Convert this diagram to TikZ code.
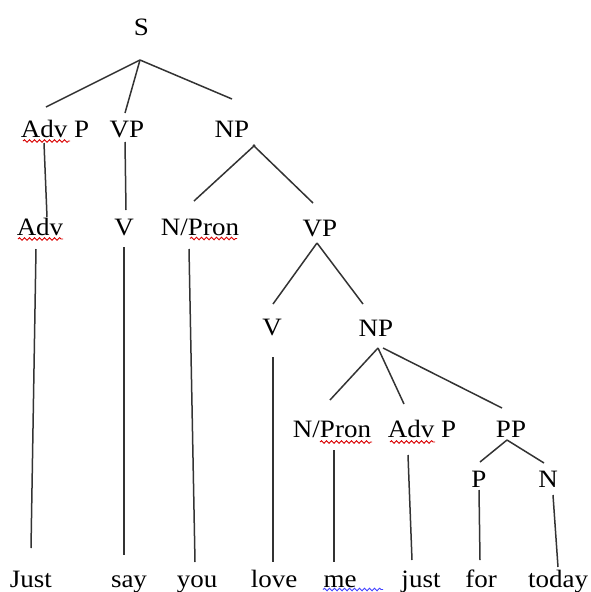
\documentclass[tikz,border=0pt]{standalone}
\usepackage{fontspec}
\usepackage{graphicx}
\setmainfont{Liberation Serif}
\usetikzlibrary{decorations.pathmorphing}
\newcommand{\lbl}[1]{\scalebox{1.08}[1]{#1}}
\begin{document}
\begin{tikzpicture}[x=1pt,y=-1pt,
  lab/.style={anchor=base,inner sep=0pt,font=\fontsize{25}{30}\selectfont,text=black},
  br/.style={line width=1.5pt,draw=black!80},
  squig/.style={draw=red!85!black,line width=0.9pt,decorate,decoration={snake,segment length=5pt,amplitude=1.3pt}},
  bsquig/.style={squig,draw=blue!75}]
\useasboundingbox (0,0) rectangle (591,592);
% labels
\node[lab] (S) at (141.5,35) {\lbl{S}};
\node[lab] (AdvP1) at (55,137) {\lbl{Adv P}};
\node[lab] (VP1) at (127,137) {\lbl{VP}};
\node[lab] (NP1) at (232,137) {\lbl{NP}};
\node[lab] (Adv) at (40,235) {\lbl{Adv}};
\node[lab] (V1) at (124,235) {\lbl{V}};
\node[lab] (NPron1) at (200,235) {\lbl{N/Pron}};
\node[lab] (VP2) at (320,236) {\lbl{VP}};
\node[lab] (V2) at (272,335) {\lbl{V}};
\node[lab] (NP2) at (376,336) {\lbl{NP}};
\node[lab] (NPron2) at (332,437) {\lbl{N/Pron}};
\node[lab] (AdvP2) at (422,437) {\lbl{Adv P}};
\node[lab] (PP) at (511,437) {\lbl{PP}};
\node[lab] (P) at (479,487) {\lbl{P}};
\node[lab] (N) at (548,487) {\lbl{N}};
% words
\node[lab] (w1) at (31,587) {\lbl{Just}};
\node[lab] (w2) at (129,587) {\lbl{say}};
\node[lab] (w3) at (197,587) {\lbl{you}};
\node[lab] (w4) at (274,587) {\lbl{love}};
\node[lab] (w5) at (340,587) {\lbl{me}};
\node[lab] (w6) at (421,587) {\lbl{just}};
\node[lab] (w7) at (481,587) {\lbl{for}};
\node[lab] (w8) at (558,587) {\lbl{today}};
% branches
\draw[br] ([shift={(-1.5,25)}]S.base) -- ([shift={(-9,-30)}]AdvP1.base);
\draw[br] ([shift={(-1.5,25)}]S.base) -- ([shift={(-2,-24)}]VP1.base);
\draw[br] ([shift={(-1.5,25)}]S.base) -- ([shift={(0,-38)}]NP1.base);
\draw[br] ([shift={(-11,6)}]AdvP1.base) -- ([shift={(7,-18)}]Adv.base);
\draw[br] ([shift={(-2,5)}]VP1.base) -- ([shift={(2,-25)}]V1.base);
\draw[br] ([shift={(23,8)}]NP1.base) -- ([shift={(-6,-34)}]NPron1.base);
\draw[br] ([shift={(21,8)}]NP1.base) -- ([shift={(-7,-33)}]VP2.base);
\draw[br] ([shift={(-4,14)}]Adv.base) -- ([shift={(0,-39)}]w1.base);
\draw[br] ([shift={(0,12)}]V1.base) -- ([shift={(-5,-32)}]w2.base);
\draw[br] ([shift={(-11,14)}]NPron1.base) -- ([shift={(-2,-25)}]w3.base);
\draw[br] ([shift={(-3,7)}]VP2.base) -- ([shift={(1,-31)}]V2.base);
\draw[br] ([shift={(-3,7)}]VP2.base) -- ([shift={(-13,-32)}]NP2.base);
\draw[br] ([shift={(1,22)}]V2.base) -- ([shift={(-1,-25)}]w4.base);
\draw[br] ([shift={(2,12)}]NP2.base) -- ([shift={(-2,-37)}]NPron2.base);
\draw[br] ([shift={(2,12)}]NP2.base) -- ([shift={(-18,-33)}]AdvP2.base);
\draw[br] ([shift={(7,12)}]NP2.base) -- ([shift={(-9,-29)}]PP.base);
\draw[br] ([shift={(2,13)}]NPron2.base) -- ([shift={(-6,-25)}]w5.base);
\draw[br] ([shift={(-14,18)}]AdvP2.base) -- ([shift={(-9,-27)}]w6.base);
\draw[br] ([shift={(-4,3)}]PP.base) -- ([shift={(1,-25)}]P.base);
\draw[br] ([shift={(-4,3)}]PP.base) -- ([shift={(-4,-24)}]N.base);
\draw[br] ([shift={(0,3)}]P.base) -- ([shift={(-1,-27)}]w7.base);
\draw[br] ([shift={(5,8)}]N.base) -- ([shift={(0,-20)}]w8.base);
% spell-check squiggles
\draw[squig] ([shift={(-32,4)}]AdvP1.base) -- ([shift={(15,4)}]AdvP1.base);
\draw[squig] ([shift={(-22,4)}]Adv.base) -- ([shift={(23,4)}]Adv.base);
\draw[squig] ([shift={(-10,3.5)}]NPron1.base) -- ([shift={(37,3.5)}]NPron1.base);
\draw[squig] ([shift={(-12,5)}]NPron2.base) -- ([shift={(40,5)}]NPron2.base);
\draw[squig] ([shift={(-32,5)}]AdvP2.base) -- ([shift={(13,5)}]AdvP2.base);
\draw[bsquig] ([shift={(-17,2.5)}]w5.base) -- ([shift={(43,2.5)}]w5.base);
\end{tikzpicture}
\end{document}
